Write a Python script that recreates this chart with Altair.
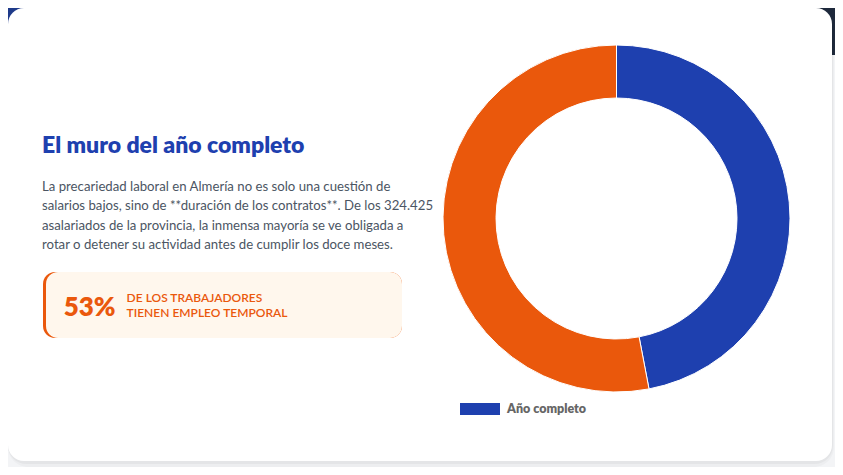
import altair as alt
import pandas as pd

# ---- data ----
categorias = ["Año completo", "Temporal"]
porcentajes = [47, 53]
orden = [0, 1]
colores = ["#1e40af", "#ea580c"]
leyenda_visible = ["Año completo"]

titulo = "El muro del año completo"
parrafo = [
    "La precariedad laboral en Almería no es solo una cuestión de",
    "salarios bajos, sino de **duración de los contratos**. De los 324.425",
    "asalariados de la provincia, la inmensa mayoría se ve obligada a",
    "rotar o detener su actividad antes de cumplir los doce meses.",
]
dato_destacado = "53%"
texto_destacado = ["DE LOS TRABAJADORES", "TIENEN EMPLEO TEMPORAL"]

FONT = "Lato"

one = pd.DataFrame({"k": [0]})
base = alt.Chart(one)


def rect(x, x2, y, y2, **kw):
    return base.mark_rect(**kw).encode(
        x=alt.value(x), x2=alt.value(x2), y=alt.value(y), y2=alt.value(y2)
    )


def text(t, x, y, **kw):
    return base.mark_text(align="left", baseline="alphabetic", font=FONT, **kw).encode(
        x=alt.value(x), y=alt.value(y), text=alt.value(t)
    )


grad = alt.LinearGradient(
    gradient="linear",
    stops=[alt.GradientStop(color="#1e3a8a", offset=0),
           alt.GradientStop(color="#1e293b", offset=1)],
    x1=0, x2=1, y1=0, y2=0,
)

fondo = rect(0, 827, 0, 459, fill="#f3f4f6")
banda = rect(0, 827, 0, 47, fill=grad)
sombra1 = rect(0, 826, 2, 459, fill="#000000", opacity=0.025, cornerRadius=20)
sombra2 = rect(0, 825, 1, 456, fill="#000000", opacity=0.035, cornerRadius=18)
tarjeta = rect(0, 824, 0, 453, fill="#ffffff", cornerRadius=16)

caja_borde = rect(35, 394, 264, 330, fill="#ea580c", cornerRadius=12)
caja = rect(38, 394, 264, 330, fill="#fff7ed", cornerRadius=12)

t_titulo = text(titulo, 34, 145, fontSize=23, fontWeight=800, color="#1e40af")
t_parrafo = text(parrafo, 34, 182.5, fontSize=13.2, lineHeight=19.5, color="#4b5563")
t_dato = text(dato_destacado, 55.7, 307.5, fontSize=26, fontWeight=800, color="#ea580c")
t_lado = text(texto_destacado, 118.6, 294, fontSize=12, lineHeight=14.6,
              fontWeight=600, color="#ea580c")

izquierda = alt.layer(
    fondo, banda, sombra1, sombra2, tarjeta, caja_borde, caja,
    t_titulo, t_parrafo, t_dato, t_lado,
).properties(width=452, height=455)

df = pd.DataFrame({"categoria": categorias, "porcentaje": porcentajes, "orden": orden})

dona = alt.Chart(df).mark_arc(
    outerRadius=173.5, innerRadius=120.5, stroke="#ffffff", strokeWidth=1
).encode(
    theta=alt.Theta("porcentaje:Q", stack=True),
    color=alt.Color(
        "categoria:N",
        scale=alt.Scale(domain=categorias, range=colores),
        legend=alt.Legend(
            values=leyenda_visible, title=None, orient="none",
            legendX=452, legendY=381,
            symbolType="M-1,-0.3H1V0.3H-1Z", symbolSize=1600,
            symbolStrokeWidth=0, symbolOpacity=1,
            labelFont=FONT, labelFontSize=12.5, labelFontWeight=800,
            labelColor="#666666", labelOffset=7,
        ),
    ),
    order=alt.Order("orden:Q"),
    tooltip=["categoria:N", "porcentaje:Q"],
).properties(width=313, height=421)

chart = alt.hconcat(izquierda, dona, spacing=0, bounds="flush").properties(
    padding=0, background="#f3f4f6"
).configure_view(strokeWidth=0)

chart.save("out.html", embed_options={"renderer": "svg", "actions": False})
